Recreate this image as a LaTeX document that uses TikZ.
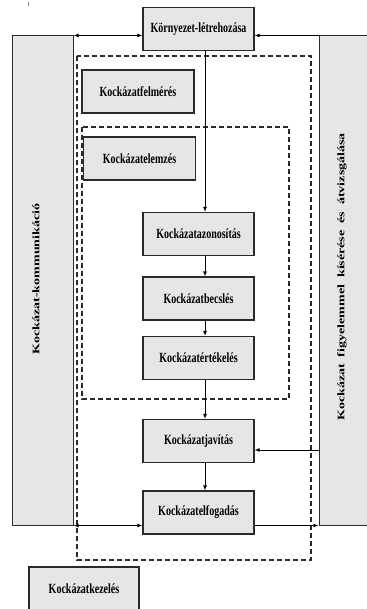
\documentclass[tikz,border=0pt]{standalone}
\usepackage{fontspec}
\setmainfont{Liberation Serif}
\usetikzlibrary{arrows.meta}
\definecolor{boxgray}{HTML}{E6E6E6}
\definecolor{edge}{HTML}{2A2A2A}
\newcommand\hstr[1]{\scalebox{1}[1.4]{#1}}
\newcommand\vstr[1]{\scalebox{1.4}[1]{#1}}
\begin{document}
\begin{tikzpicture}[x=1pt,y=-1pt,
  stepbox/.style={draw=edge, line width=1.2pt, fill=boxgray, minimum width=111pt, minimum height=43pt, inner sep=0pt, font=\bfseries\fontsize{10}{12}\selectfont},
  colbox/.style={draw=edge, line width=1pt, fill=boxgray, inner sep=0pt},
  dbox/.style={draw=edge, line width=1.1pt, dash pattern=on 5pt off 3pt},
  conn/.style={draw=black, line width=0.9pt, -{Latex[length=5pt,width=4pt]}},
  biconn/.style={draw=black, line width=0.9pt, {Latex[length=5pt,width=4pt]}-{Latex[length=5pt,width=4pt]}},
  vtext/.style={font=\bfseries\fontsize{10}{12}\selectfont, rotate=90, inner sep=0pt}
]
\useasboundingbox (0,0) rectangle (366,609);
% stray mark
\draw[gray, line width=1pt] (28,2) -- (28,6);
% side columns
\node[colbox, minimum width=61pt, minimum height=489pt] (lcol) at (42.5,280.5) {};
\node[colbox, minimum width=71pt, minimum height=489pt] (rcol) at (354.5,280.5) {};
\node[vtext] (ltxt) at (36,279) {\vstr{Kockázat-kommunikáció}};
\node[vtext] (rtxt) at (342,277) {\vstr{Kockázat\ \ figyelemmel\ \ kísérése\ \ és\ \ átvizsgálása}};
% dashed frames
\draw[dbox] (77,56) rectangle (311,560);
\draw[dbox] (82,127) rectangle (289,399);
% boxes
\node[stepbox] (kor) at (198.5,29) {\hstr{Környezet-létrehozása}};
\node[stepbox, minimum width=112pt] (felm) at (138,91.5) {\hstr{Kockázatfelmérés}};
\node[stepbox, minimum width=112pt] (elem) at (139.5,158.5) {\hstr{Kockázatelemzés}};
\node[stepbox] (azon) at (198.5,234) {\hstr{Kockázatazonosítás}};
\node[stepbox] (becs) at (198.5,298.5) {\hstr{Kockázatbecslés}};
\node[stepbox] (ert) at (198.5,358) {\hstr{Kockázatértékelés}};
\node[stepbox] (jav) at (198.5,441) {\hstr{Kockázatjavítás}};
\node[stepbox] (elf) at (198.5,512.5) {\hstr{Kockázatelfogadás}};
\node[stepbox, minimum width=110pt] (kez) at (84,588.5) {\hstr{Kockázatkezelés}};
% connectors
\coordinate (sp) at (205,0);
\coordinate (jv) at (319,450);
\draw[conn] (kor.south -| sp) -- (azon.north -| sp);
\draw[conn] (azon.south -| sp) -- (becs.north -| sp);
\draw[conn] (becs.south -| sp) -- (ert.north -| sp);
\draw[conn] (ert.south -| sp) -- (jav.north -| sp);
\draw[conn] (jav.south -| sp) -- (elf.north -| sp);
\draw[biconn] (lcol.north east) -- (kor.west |- lcol.north east);
\draw[conn] (rcol.north west) -- (kor.east |- rcol.north west);
\draw[conn] (jv) -- (jav.east |- jv);
\draw[biconn] (lcol.south east) -- (elf.west |- lcol.south east);
\draw[conn] (elf.east |- rcol.south west) -- (rcol.south west);
\end{tikzpicture}
\end{document}
